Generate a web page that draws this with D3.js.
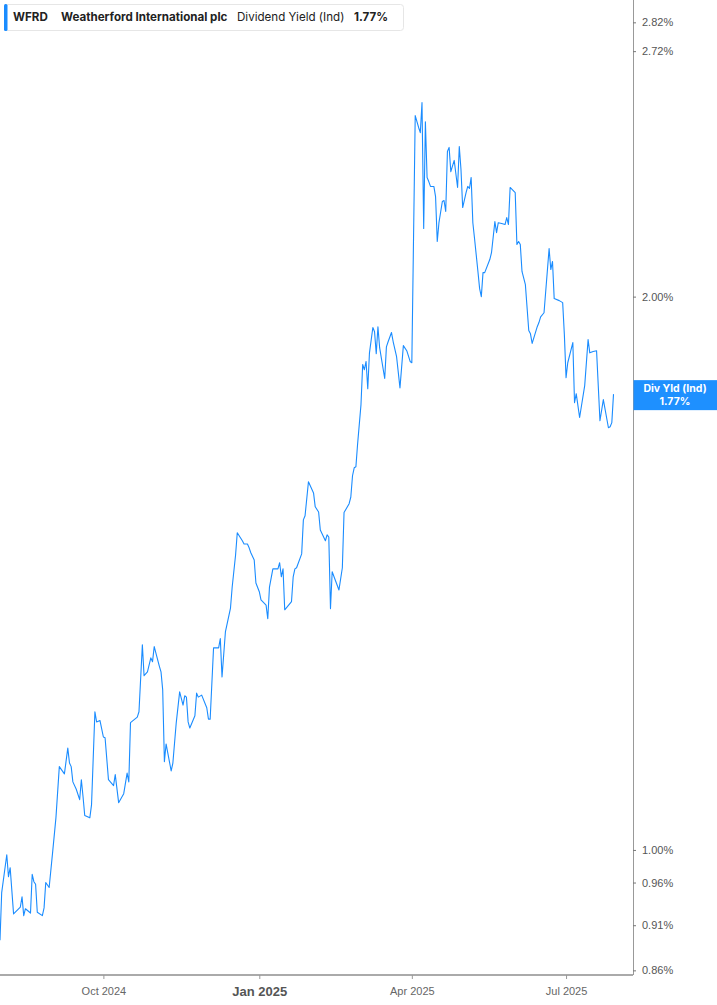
<!DOCTYPE html>
<html>
<head>
<meta charset="utf-8">
<script src="https://cdn.jsdelivr.net/npm/d3@7"></script>
<style>
  body { margin: 0; background: #fff; }
  svg { display: block; font-family: Inter, "Noto Sans", sans-serif; }
</style>
</head>
<body>
<div id="chart"></div>
<script>
// WFRD dividend yield (ind), %
var dates = [
  "2024-08-01","2024-08-02","2024-08-05","2024-08-06","2024-08-07","2024-08-09","2024-08-13","2024-08-14","2024-08-15","2024-08-16",
  "2024-08-19","2024-08-20","2024-08-21","2024-08-22","2024-08-23","2024-08-26","2024-08-27","2024-08-28","2024-08-30","2024-09-01",
  "2024-09-03","2024-09-05","2024-09-08","2024-09-10","2024-09-11","2024-09-12","2024-09-13","2024-09-15","2024-09-17","2024-09-18",
  "2024-09-19","2024-09-20","2024-09-23","2024-09-24","2024-09-26","2024-09-27","2024-09-29","2024-10-01","2024-10-02","2024-10-04",
  "2024-10-07","2024-10-08","2024-10-10","2024-10-13","2024-10-15","2024-10-16","2024-10-17","2024-10-21","2024-10-22","2024-10-24",
  "2024-10-25","2024-10-27","2024-10-29","2024-10-30","2024-10-31","2024-11-03","2024-11-04","2024-11-05","2024-11-06","2024-11-07",
  "2024-11-10","2024-11-11","2024-11-13","2024-11-15","2024-11-17","2024-11-18","2024-11-19","2024-11-20","2024-11-21","2024-11-24",
  "2024-11-25","2024-11-26","2024-11-28","2024-12-01","2024-12-02","2024-12-03","2024-12-05","2024-12-08","2024-12-09","2024-12-10",
  "2024-12-12","2024-12-15","2024-12-16","2024-12-18","2024-12-19","2024-12-22","2024-12-23","2024-12-25","2024-12-26","2024-12-27",
  "2024-12-29","2024-12-30","2025-01-01","2025-01-02","2025-01-05","2025-01-06","2025-01-07","2025-01-09","2025-01-12","2025-01-13",
  "2025-01-14","2025-01-15","2025-01-16","2025-01-20","2025-01-21","2025-01-22","2025-01-23","2025-01-26","2025-01-27","2025-01-28",
  "2025-01-30","2025-02-02","2025-02-03","2025-02-05","2025-02-06","2025-02-09","2025-02-10","2025-02-11","2025-02-12","2025-02-13",
  "2025-02-17","2025-02-19","2025-02-20","2025-02-23","2025-02-24","2025-02-25","2025-02-26","2025-02-27","2025-02-28","2025-03-02",
  "2025-03-03","2025-03-04","2025-03-05","2025-03-06","2025-03-07","2025-03-09","2025-03-10","2025-03-11","2025-03-12","2025-03-13",
  "2025-03-16","2025-03-17","2025-03-18","2025-03-20","2025-03-21","2025-03-23","2025-03-25","2025-03-27","2025-03-29","2025-03-31",
  "2025-04-01","2025-04-03","2025-04-05","2025-04-06","2025-04-07","2025-04-08","2025-04-09","2025-04-10","2025-04-11","2025-04-12",
  "2025-04-14","2025-04-15","2025-04-16","2025-04-17","2025-04-19","2025-04-20","2025-04-21","2025-04-22","2025-04-23","2025-04-24",
  "2025-04-26","2025-04-28","2025-04-29","2025-04-30","2025-05-01","2025-05-03","2025-05-04","2025-05-05","2025-05-06","2025-05-07",
  "2025-05-08","2025-05-10","2025-05-11","2025-05-12","2025-05-13","2025-05-14","2025-05-17","2025-05-18","2025-05-20","2025-05-21",
  "2025-05-22","2025-05-24","2025-05-26","2025-05-27","2025-05-28","2025-05-29","2025-06-01","2025-06-02","2025-06-03","2025-06-04",
  "2025-06-05","2025-06-07","2025-06-09","2025-06-10","2025-06-11","2025-06-14","2025-06-15","2025-06-16","2025-06-18","2025-06-21",
  "2025-06-22","2025-06-23","2025-06-24","2025-06-27","2025-06-29","2025-06-30","2025-07-01","2025-07-02","2025-07-05","2025-07-06",
  "2025-07-07","2025-07-09","2025-07-12","2025-07-14","2025-07-15","2025-07-17","2025-07-19","2025-07-21","2025-07-23","2025-07-26",
  "2025-07-27","2025-07-28","2025-07-29"
];
var yields = [
  0.893,0.948,0.994,0.967,0.978,0.923,0.931,0.943,0.921,0.929,
  0.924,0.970,0.961,0.958,0.925,0.921,0.930,0.960,0.954,0.996,
  1.041,1.110,1.100,1.136,1.115,1.110,1.089,1.079,1.065,1.092,
  1.069,1.044,1.041,1.058,1.189,1.174,1.176,1.152,1.151,1.092,
  1.084,1.099,1.061,1.073,1.101,1.089,1.173,1.181,1.189,1.293,
  1.244,1.250,1.272,1.266,1.290,1.259,1.250,1.222,1.117,1.142,
  1.104,1.115,1.173,1.219,1.199,1.213,1.211,1.174,1.165,1.183,
  1.217,1.211,1.214,1.195,1.178,1.178,1.288,1.288,1.303,1.242,
  1.314,1.354,1.390,1.447,1.488,1.473,1.467,1.467,1.460,1.451,
  1.438,1.397,1.382,1.368,1.359,1.336,1.390,1.422,1.422,1.433,
  1.408,1.422,1.351,1.365,1.408,1.422,1.424,1.449,1.512,1.520,
  1.586,1.564,1.537,1.527,1.493,1.473,1.484,1.480,1.353,1.417,
  1.385,1.424,1.526,1.543,1.556,1.598,1.614,1.616,1.663,1.747,
  1.837,1.825,1.844,1.782,1.864,1.924,1.914,1.862,1.926,1.876,
  1.805,1.878,1.890,1.912,1.890,1.855,1.784,1.881,1.869,1.844,
  1.841,2.509,2.472,2.456,2.550,2.178,2.490,2.322,2.310,2.296,
  2.296,2.267,2.143,2.194,2.253,2.256,2.225,2.399,2.411,2.339,
  2.372,2.293,2.414,2.345,2.236,2.278,2.296,2.290,2.322,2.194,
  2.151,2.064,2.020,2.000,2.061,2.061,2.095,2.113,2.197,2.167,
  2.194,2.192,2.189,2.208,2.189,2.293,2.278,2.135,2.143,2.135,
  2.064,2.030,1.917,1.909,1.886,1.926,1.936,1.950,1.960,2.124,
  2.069,2.090,1.995,1.990,1.985,1.907,1.807,1.841,1.888,1.751,
  1.771,1.719,1.789,1.895,1.864,1.867,1.869,1.712,1.758,1.697,
  1.699,1.708,1.770
];
var yTicks = [0.86, 0.91, 0.96, 1.00, 2.00, 2.72, 2.82];
var xTicks = ["2024-10-01", "2025-01-01", "2025-04-01", "2025-07-01"];
var lastYield = 1.77;

var svgWidth = 717;
var svgHeight = 1005;
var plotW = 633;
var plotH = 975;
var blue = "#1a8cff";

var parse = d3.timeParse("%Y-%m-%d");
var data = dates.map(function(d, i) { return { date: parse(d), v: yields[i] }; });

var svg = d3.select("#chart")
  .append("svg")
  .attr("width", svgWidth)
  .attr("height", svgHeight);

var x = d3.scaleTime()
  .domain([parse("2024-08-01"), new Date(2025, 7, 9, 12)])
  .range([0, plotW]);

var y = d3.scaleLog()
  .domain([0.855, 2.90])
  .range([plotH, 0]);

// line
var line = d3.line()
  .x(d => x(d.date))
  .y(d => y(d.v));

svg.append("path")
  .datum(data)
  .attr("d", line)
  .attr("fill", "none")
  .attr("stroke", blue)
  .attr("stroke-width", 1.1)
  .attr("stroke-linejoin", "round");

// right axis
var yAxis = d3.axisRight(y)
  .tickValues(yTicks)
  .tickSize(3)
  .tickPadding(6)
  .tickFormat(d => d.toFixed(2) + "%");

var yG = svg.append("g")
  .attr("transform", `translate(${plotW},0)`)
  .call(yAxis);
yG.select(".domain").attr("stroke", "#999").attr("d", `M0.5,0V${plotH}`);
yG.selectAll(".tick line").attr("stroke", "#777");
yG.selectAll(".tick text")
  .attr("fill", "#555")
  .style("font-size", "11px");

// bottom axis
var xAxis = d3.axisBottom(x)
  .tickValues(xTicks.map(parse))
  .tickSize(4)
  .tickPadding(8)
  .tickFormat(d3.timeFormat("%b %Y"));

var xG = svg.append("g")
  .attr("transform", `translate(0,${plotH})`)
  .call(xAxis);
xG.select(".domain").attr("stroke", "#aaa").attr("stroke-width", 2).attr("d", `M0,0H${plotW}`);
xG.selectAll(".tick line").attr("stroke", "#999");
xG.selectAll(".tick text")
  .attr("fill", "#666")
  .style("font-size", "11px")
  .filter(d => d.getMonth() === 0)
  .attr("fill", "#555")
  .style("font-size", "13px")
  .style("font-weight", "bold");

// last value tag
var tag = svg.append("g").attr("transform", `translate(${plotW},${y(lastYield)})`);
tag.append("rect")
  .attr("x", 0.5).attr("y", -14)
  .attr("width", svgWidth - plotW).attr("height", 30)
  .attr("fill", "#1e90ff");
tag.selectAll("text")
  .data(["Div Yld (Ind)", lastYield.toFixed(2) + "%"])
  .enter()
  .append("text")
  .attr("x", 42)
  .attr("y", (d, i) => -1.8 + i * 12.9)
  .attr("text-anchor", "middle")
  .attr("fill", "#fff")
  .style("font-size", "10.5px")
  .style("font-weight", "bold")
  .text(d => d);

// header legend box
var head = svg.append("g");
head.append("rect")
  .attr("x", 4.5).attr("y", 4.5).attr("width", 399).attr("height", 26).attr("rx", 3)
  .attr("fill", "#fff").attr("stroke", "#e6e6e6");
head.append("rect")
  .attr("x", 4).attr("y", 4).attr("width", 3.5).attr("height", 27).attr("rx", 1.5)
  .attr("fill", blue);
var headBits = [
  { t: "WFRD", x: 13, w: "bold" },
  { t: "Weatherford International plc", x: 61, w: "bold" },
  { t: "Dividend Yield (Ind)", x: 237, w: "normal" },
  { t: lastYield.toFixed(2) + "%", x: 354, w: "bold" }
];
head.selectAll("text.h")
  .data(headBits)
  .enter()
  .append("text")
  .attr("x", d => d.x)
  .attr("y", 21)
  .attr("fill", "#222")
  .style("font-size", "11.6px")
  .style("font-weight", d => d.w)
  .text(d => d.t);
</script>
</body>
</html>
